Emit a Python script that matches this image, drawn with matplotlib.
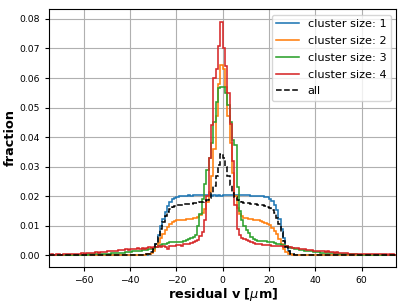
import numpy as np
import matplotlib
matplotlib.use("Agg")
import matplotlib.pyplot as plt

# Histogram bin edges: 150 bins of 1 um from -75 to 75
bin_edges = np.linspace(-75, 75, 151)

labels = ["cluster size: 1", "cluster size: 2", "cluster size: 3", "cluster size: 4", "all"]

cs1 = [
    0.00002, 0.00002, 0.00002, 0.00002, 0.00002, 0.00002, 0.00002, 0.00002, 0.00002, 0.00002,
    0.00002, 0.00002, 0.00002, 0.00002, 0.00003, 0.00003, 0.00003, 0.00003, 0.00003, 0.00003,
    0.00003, 0.00003, 0.00004, 0.00004, 0.00004, 0.00004, 0.00005, 0.00005, 0.00005, 0.00006,
    0.00006, 0.00007, 0.00007, 0.00008, 0.00009, 0.00010, 0.00011, 0.00012, 0.00014, 0.00016,
    0.00015, 0.00018, 0.00028, 0.0005, 0.0010, 0.0020, 0.0040, 0.0068, 0.0098, 0.0124,
    0.0148, 0.0167, 0.0180, 0.0189, 0.0195, 0.0198, 0.0200, 0.0201, 0.0201, 0.0202,
    0.0203, 0.0202, 0.0203, 0.0204, 0.0203, 0.0203, 0.0204, 0.0203, 0.0204, 0.0203,
    0.0202, 0.0203, 0.0202, 0.0203, 0.0202,
    0.0203, 0.0203, 0.0204, 0.0205, 0.0204, 0.0205, 0.0204, 0.0204, 0.0203, 0.0204,
    0.0203, 0.0203, 0.0202, 0.0202, 0.0202, 0.0201, 0.0201, 0.0200, 0.0199, 0.0196,
    0.0192, 0.0185, 0.0172, 0.0152, 0.0123, 0.0090, 0.0057, 0.0030, 0.0014, 0.0006,
    0.00030, 0.00018, 0.00013, 0.00010, 0.00009, 0.00008, 0.00007, 0.00006, 0.00006, 0.00005,
    0.00005, 0.00005, 0.00004, 0.00004, 0.00004, 0.00003, 0.00003, 0.00003, 0.00003, 0.00003,
    0.00003, 0.00003, 0.00003, 0.00003, 0.00002, 0.00002, 0.00002, 0.00002, 0.00002, 0.00002,
    0.00002, 0.00002, 0.00002, 0.00002, 0.00002, 0.00002, 0.00002, 0.00002, 0.00002, 0.00002,
    0.00002, 0.00002, 0.00002, 0.00002, 0.00002,
]

cs2 = [
    0.00003, 0.00003, 0.00003, 0.00003, 0.00003, 0.00003, 0.00003, 0.00003, 0.00003, 0.00003,
    0.00003, 0.00003, 0.00004, 0.00004, 0.00004, 0.00004, 0.00005, 0.00005, 0.00005, 0.00005,
    0.00006, 0.00006, 0.00006, 0.00007, 0.00007, 0.00007, 0.00008, 0.00008, 0.00009, 0.00009,
    0.00010, 0.00010, 0.00011, 0.00011, 0.00012, 0.00012, 0.00013, 0.00014, 0.00015, 0.00016,
    0.00018, 0.00020, 0.0003, 0.0005, 0.0009, 0.0016, 0.0028, 0.0043, 0.0059, 0.0073,
    0.0086, 0.0097, 0.0106, 0.0112, 0.0116, 0.0118, 0.0119, 0.0121, 0.0121, 0.0122,
    0.0123, 0.0124, 0.0126, 0.0128, 0.0131, 0.0136, 0.0144, 0.0158, 0.0180, 0.0215,
    0.0270, 0.0360, 0.0470, 0.0580, 0.0645,
    0.0630, 0.0570, 0.0470, 0.0380, 0.0280, 0.0200, 0.0160, 0.0140, 0.0132, 0.0128,
    0.0125, 0.0123, 0.0122, 0.0121, 0.0120, 0.0118, 0.0116, 0.0114, 0.0111, 0.0107,
    0.0101, 0.0094, 0.0084, 0.0071, 0.0055, 0.0038, 0.0022, 0.0011, 0.0005, 0.0003,
    0.00020, 0.00018, 0.00016, 0.00015, 0.00014, 0.00013, 0.00012, 0.00011, 0.00011, 0.00010,
    0.00010, 0.00009, 0.00009, 0.00008, 0.00008, 0.00007, 0.00007, 0.00007, 0.00006, 0.00006,
    0.00006, 0.00005, 0.00005, 0.00005, 0.00005, 0.00004, 0.00004, 0.00004, 0.00004, 0.00004,
    0.00004, 0.00004, 0.00004, 0.00004, 0.00004, 0.00003, 0.00003, 0.00003, 0.00003, 0.00003,
    0.00003, 0.00003, 0.00003, 0.00003, 0.00003,
]

cs3 = [
    0.00010, 0.00010, 0.00011, 0.00012, 0.00012, 0.00013, 0.00014, 0.00015, 0.00016, 0.00017,
    0.00018, 0.00019, 0.00021, 0.00022, 0.00024, 0.00026, 0.00028, 0.00030, 0.00032, 0.00035,
    0.00038, 0.00041, 0.00044, 0.00048, 0.00052, 0.00056, 0.00061, 0.00066, 0.00071, 0.00077,
    0.00083, 0.00089, 0.00096, 0.00103, 0.0011, 0.0012, 0.0013, 0.0014, 0.0015, 0.0016,
    0.0017, 0.0018, 0.0019, 0.0021, 0.0023, 0.0025, 0.0028, 0.0031, 0.0034, 0.0037,
    0.0040, 0.0042, 0.0044, 0.0045, 0.0046, 0.0045, 0.0044, 0.0046, 0.0048, 0.0051,
    0.0054, 0.0058, 0.0062, 0.0068, 0.0100, 0.0140, 0.0190, 0.0240, 0.0290, 0.0330,
    0.0380, 0.0450, 0.0520, 0.0565, 0.0570,
    0.0568, 0.0550, 0.0510, 0.0450, 0.0390, 0.0375, 0.0230, 0.0150, 0.0120, 0.0098,
    0.0085, 0.0075, 0.0062, 0.0055, 0.0052, 0.0050, 0.0049, 0.0047, 0.0047, 0.0046,
    0.0046, 0.0045, 0.0043, 0.0040, 0.0038, 0.0036, 0.0034, 0.0031, 0.0028, 0.0026,
    0.0024, 0.0022, 0.0020, 0.0019, 0.0017, 0.0016, 0.0015, 0.0014, 0.0013, 0.0012,
    0.0011, 0.00103, 0.00096, 0.00089, 0.00083, 0.00077, 0.00071, 0.00066, 0.00061, 0.00056,
    0.00052, 0.00048, 0.00044, 0.00041, 0.00038, 0.00035, 0.00032, 0.00030, 0.00028, 0.00026,
    0.00024, 0.00022, 0.00021, 0.00019, 0.00018, 0.00017, 0.00016, 0.00015, 0.00014, 0.00013,
    0.00012, 0.00012, 0.00011, 0.00010, 0.00010,
]

cs4 = [
    0.0002, 0.0003, 0.0002, 0.0003, 0.0003, 0.0002, 0.0004, 0.0003, 0.0004, 0.0005,
    0.0004, 0.0005, 0.0006, 0.0005, 0.0007, 0.0006, 0.0008, 0.0007, 0.0008, 0.0009,
    0.0010, 0.0009, 0.0011, 0.0012, 0.0011, 0.0013, 0.0014, 0.0013, 0.0016, 0.0015,
    0.0017, 0.0018, 0.0017, 0.0020, 0.0019, 0.0021, 0.0020, 0.0022, 0.0024, 0.0022,
    0.0025, 0.0023, 0.0026, 0.0027, 0.0025, 0.0028, 0.0027, 0.0030, 0.0029, 0.0031,
    0.0028, 0.0022, 0.0030, 0.0033, 0.0031, 0.0036, 0.0034, 0.0032, 0.0038, 0.0037,
    0.0040, 0.0042, 0.0044, 0.0048, 0.0052, 0.0065, 0.0080, 0.0120, 0.0200, 0.0330,
    0.0440, 0.0600, 0.0630, 0.0710, 0.0790,
    0.0700, 0.0640, 0.0550, 0.0446, 0.0320, 0.0170, 0.0090, 0.0068, 0.0060, 0.0055,
    0.0052, 0.0048, 0.0044, 0.0041, 0.0039, 0.0038, 0.0037, 0.0036, 0.0035, 0.0036,
    0.0034, 0.0033, 0.0032, 0.0031, 0.0030, 0.0031, 0.0029, 0.0033, 0.0028, 0.0027,
    0.0026, 0.0024, 0.0025, 0.0022, 0.0021, 0.0022, 0.0019, 0.0018, 0.0019, 0.0016,
    0.0015, 0.0016, 0.0014, 0.0013, 0.0012, 0.0013, 0.0011, 0.0010, 0.0009, 0.0010,
    0.0008, 0.0008, 0.0007, 0.0007, 0.0006, 0.0006, 0.0005, 0.0006, 0.0005, 0.0004,
    0.0005, 0.0004, 0.0004, 0.0003, 0.0004, 0.0003, 0.0003, 0.0003, 0.0004, 0.0003,
    0.0003, 0.0002, 0.0003, 0.0003, 0.0002,
]

cs_all = [
    0.00003, 0.00003, 0.00003, 0.00003, 0.00003, 0.00003, 0.00003, 0.00003, 0.00003, 0.00003,
    0.00003, 0.00003, 0.00003, 0.00003, 0.00003, 0.00004, 0.00004, 0.00004, 0.00004, 0.00004,
    0.00004, 0.00004, 0.00005, 0.00005, 0.00005, 0.00006, 0.00006, 0.00007, 0.00007, 0.00008,
    0.00008, 0.00009, 0.00010, 0.00010, 0.00011, 0.00012, 0.00013, 0.00014, 0.00016, 0.00018,
    0.00020, 0.00022, 0.0003, 0.0005, 0.0010, 0.0020, 0.0038, 0.0062, 0.0090, 0.0113,
    0.0133, 0.0148, 0.0158, 0.0164, 0.0167, 0.0169, 0.0171, 0.0172, 0.0173, 0.0173,
    0.0174, 0.0175, 0.0176, 0.0177, 0.0178, 0.0180, 0.0182, 0.0184, 0.0188, 0.0195,
    0.0210, 0.0235, 0.0268, 0.0305, 0.0342,
    0.0330, 0.0300, 0.0268, 0.0238, 0.0212, 0.0196, 0.0188, 0.0183, 0.0180, 0.0178,
    0.0177, 0.0176, 0.0175, 0.0174, 0.0173, 0.0172, 0.0171, 0.0169, 0.0167, 0.0164,
    0.0160, 0.0154, 0.0144, 0.0128, 0.0105, 0.0078, 0.0050, 0.0027, 0.0013, 0.0006,
    0.0003, 0.00020, 0.00016, 0.00014, 0.00012, 0.00011, 0.00010, 0.00009, 0.00008, 0.00008,
    0.00007, 0.00007, 0.00006, 0.00006, 0.00005, 0.00005, 0.00005, 0.00004, 0.00004, 0.00004,
    0.00004, 0.00004, 0.00004, 0.00003, 0.00003, 0.00003, 0.00003, 0.00003, 0.00003, 0.00003,
    0.00003, 0.00003, 0.00003, 0.00003, 0.00003, 0.00003, 0.00003, 0.00003, 0.00003, 0.00003,
    0.00003, 0.00003, 0.00003, 0.00003, 0.00003,
]

series = [cs1, cs2, cs3, cs4]
colors = ["tab:blue", "tab:orange", "tab:green", "tab:red"]

fig = plt.figure(figsize=(4.07, 3.05), dpi=100)
ax = fig.add_axes([0.120, 0.126, 0.854, 0.844])

for vals, col, lab in zip(series, colors, labels[:4]):
    ax.stairs(vals, bin_edges, color=col, lw=1.15, label=lab)
ax.stairs(cs_all, bin_edges, color="black", lw=1.1, ls="--", label=labels[4])

ax.set_xlim(-75, 75)
ax.set_ylim(-0.0038, 0.0833)
ax.set_xticks([-60, -40, -20, 0, 20, 40, 60])
ax.set_yticks([0.00, 0.01, 0.02, 0.03, 0.04, 0.05, 0.06, 0.07, 0.08])
ax.tick_params(labelsize=6.7, length=3)
ax.grid(True, color="#b0b0b0", lw=0.8)
ax.set_axisbelow(True)

ax.set_xlabel(r"residual v [$\mu$m]", fontsize=9.3, fontweight="bold", labelpad=1)
ax.set_ylabel("fraction", fontsize=9.3, fontweight="bold", labelpad=2)

ax.legend(loc="upper right", fontsize=8.1, handlelength=2.0, labelspacing=0.6)

fig.savefig("out.png", dpi=100)
